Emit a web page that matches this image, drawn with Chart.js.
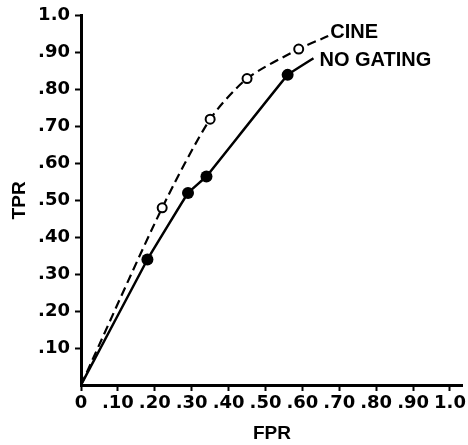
<!DOCTYPE html>
<html>
<head>
<meta charset="utf-8">
<script src="https://cdn.jsdelivr.net/npm/chart.js@4/dist/chart.umd.min.js"></script>
<style>
  body { margin: 0; background: #fff; }
  canvas { display: block; }
</style>
</head>
<body>
<canvas id="roc" width="468" height="445"></canvas>
<script>
// data
const cineFpr = [0, 0.22, 0.35, 0.45, 0.59, 0.67];
const cineTpr = [0, 0.48, 0.72, 0.83, 0.91, 0.945];
const noGatingFpr = [0, 0.18, 0.29, 0.34, 0.56, 0.63];
const noGatingTpr = [0, 0.34, 0.52, 0.565, 0.84, 0.885];

const xTicks = [0, 0.1, 0.2, 0.3, 0.4, 0.5, 0.6, 0.7, 0.8, 0.9, 1.0];
const xTickLabels = ['0', '.10', '.20', '.30', '.40', '.50', '.60', '.70', '.80', '.90', '1.0'];
const yTicks = [0.1, 0.2, 0.3, 0.4, 0.5, 0.6, 0.7, 0.8, 0.9, 1.0];
const yTickLabels = ['.10', '.20', '.30', '.40', '.50', '.60', '.70', '.80', '.90', '1.0'];

const seriesNames = ['CINE', 'NO GATING'];

function toPoints(xs, ys) {
    return xs.map((x, i) => ({ x: x, y: ys[i] }));
}

// no marker at the origin or at the end of the leader line
function markerRadius(n, r) {
    return Array.from({ length: n }, (_, i) => (i === 0 || i === n - 1) ? 0 : r);
}

// writes the series name at the end of each line
const endLabels = {
    id: 'endLabels',
    afterDatasetsDraw(chart) {
        const c = chart.ctx;
        const offsets = [[2, -4], [6, 2]];
        c.save();
        c.fillStyle = '#000';
        c.font = 'bold 20px "Liberation Sans", Arial, sans-serif';
        c.textBaseline = 'middle';
        c.textAlign = 'left';
        chart.data.datasets.forEach((ds, i) => {
            const meta = chart.getDatasetMeta(i);
            const last = meta.data[meta.data.length - 1];
            c.fillText(ds.label, last.x + offsets[i][0], last.y + offsets[i][1]);
        });
        c.restore();
    }
};

const tickFont = { family: '"DejaVu Sans", sans-serif', size: 18, weight: 'bold' };
const titleFont = { family: '"Liberation Sans", Arial, sans-serif', size: 19, weight: 'bold' };

const ctx = document.getElementById('roc').getContext('2d');
const myChart = new Chart(ctx, {
    type: 'scatter',
    data: {
        datasets: [{
            label: seriesNames[0],
            data: toPoints(cineFpr, cineTpr),
            showLine: true,
            borderColor: '#000',
            borderWidth: 2.2,
            borderDash: [9, 5],
            tension: 0.25,
            pointRadius: markerRadius(cineFpr.length, 4.5),
            pointBackgroundColor: '#fff',
            pointBorderColor: '#000',
            pointBorderWidth: 2
        }, {
            label: seriesNames[1],
            data: toPoints(noGatingFpr, noGatingTpr),
            showLine: true,
            borderColor: '#000',
            borderWidth: 2.5,
            tension: 0.05,
            pointRadius: markerRadius(noGatingFpr.length, 6),
            pointBackgroundColor: '#000',
            pointBorderColor: '#000',
            pointBorderWidth: 0
        }]
    },
    options: {
        responsive: false,
        animation: false,
        events: [],
        layout: { padding: { top: 15, right: 2, left: 0, bottom: 0 } },
        plugins: {
            legend: { display: false },
            tooltip: { enabled: false }
        },
        scales: {
            x: {
                type: 'linear',
                min: 0,
                max: 1.035,
                afterBuildTicks(axis) { axis.ticks = xTicks.map(v => ({ value: v })); },
                afterFit(axis) { axis.height = 60; },
                ticks: {
                    autoSkip: false,
                    maxRotation: 0,
                    color: '#000',
                    font: tickFont,
                    padding: 2,
                    callback: (v) => xTickLabels[xTicks.findIndex(t => Math.abs(t - v) < 1e-6)]
                },
                grid: {
                    drawOnChartArea: false,
                    tickLength: 6,
                    tickWidth: 2,
                    tickColor: '#000'
                },
                border: { color: '#000', width: 3 },
                title: {
                    display: true,
                    text: 'FPR',
                    color: '#000',
                    font: titleFont,
                    padding: { top: 0, bottom: 0 }
                }
            },
            y: {
                type: 'linear',
                min: 0,
                max: 1.0,
                afterBuildTicks(axis) { axis.ticks = yTicks.map(v => ({ value: v })); },
                afterFit(axis) { axis.width = 81; },
                ticks: {
                    autoSkip: false,
                    color: '#000',
                    font: tickFont,
                    padding: 5,
                    callback: (v) => yTickLabels[yTicks.findIndex(t => Math.abs(t - v) < 1e-6)]
                },
                grid: {
                    drawOnChartArea: false,
                    tickLength: 6,
                    tickWidth: 2,
                    tickColor: '#000'
                },
                border: { color: '#000', width: 3 },
                title: {
                    display: true,
                    text: 'TPR',
                    color: '#000',
                    font: titleFont,
                    padding: { top: 8, bottom: 0 }
                }
            }
        }
    },
    plugins: [endLabels]
});
</script>
</body>
</html>
